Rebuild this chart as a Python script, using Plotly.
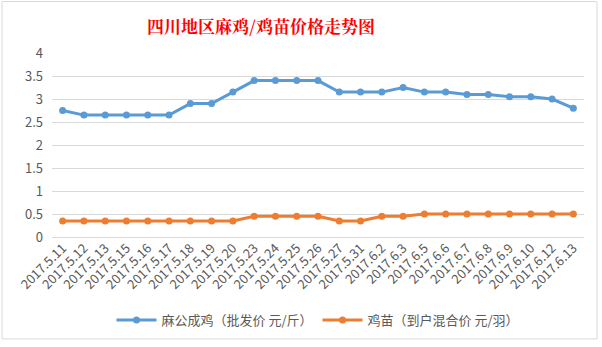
import plotly.graph_objects as go

dates = ["2017.5.11", "2017.5.12", "2017.5.13", "2017.5.15", "2017.5.16", "2017.5.17",
         "2017.5.18", "2017.5.19", "2017.5.20", "2017.5.23", "2017.5.24", "2017.5.25",
         "2017.5.26", "2017.5.27", "2017.5.31", "2017.6.2", "2017.6.3", "2017.6.5",
         "2017.6.6", "2017.6.7", "2017.6.8", "2017.6.9", "2017.6.10", "2017.6.12", "2017.6.13"]
mgcj = [2.75, 2.65, 2.65, 2.65, 2.65, 2.65, 2.9, 2.9, 3.15, 3.4, 3.4, 3.4, 3.4,
        3.15, 3.15, 3.15, 3.25, 3.15, 3.15, 3.1, 3.1, 3.05, 3.05, 3.0, 2.8]
jm = [0.35, 0.35, 0.35, 0.35, 0.35, 0.35, 0.35, 0.35, 0.35, 0.45, 0.45, 0.45, 0.45,
      0.35, 0.35, 0.45, 0.45, 0.5, 0.5, 0.5, 0.5, 0.5, 0.5, 0.5, 0.5]
names = ["麻公成鸡（批发价 元/斤）", "鸡苗（到户混合价 元/羽）"]
colors = ["#5B9BD5", "#ED7D31"]
yticks = [0, 0.5, 1, 1.5, 2, 2.5, 3, 3.5, 4]

fig = go.Figure()
for vals, nm, c in zip([mgcj, jm], names, colors):
    fig.add_trace(go.Scatter(x=dates, y=vals, name=nm, mode="lines+markers",
                             line=dict(color=c, width=3),
                             marker=dict(color=c, size=7)))

font = "Noto Sans CJK SC, Liberation Sans, sans-serif"
fig.update_layout(
    width=602, height=347,
    margin=dict(l=52, r=18, t=53, b=108),
    paper_bgcolor="white", plot_bgcolor="white",
    title=dict(text="<b>四川地区麻鸡/鸡苗价格走势图</b>", xref="container", x=261 / 602,
               xanchor="center", y=1 - 27 / 347, yanchor="middle",
               font=dict(family="Noto Serif CJK SC, Noto Sans CJK SC, serif", size=17, color="#FF0000")),
    xaxis=dict(type="category", tickangle=-45, showgrid=False, showline=False,
               tickfont=dict(family=font, size=13, color="#595959"), ticks="",
               range=[-0.5, len(dates) - 0.5]),
    yaxis=dict(range=[0, 4], tickvals=yticks, ticktext=[f"{v:g}" for v in yticks],
               showgrid=True, gridcolor="#D9D9D9", gridwidth=1, zeroline=True,
               zerolinecolor="#D9D9D9", zerolinewidth=1,
               tickfont=dict(family=font, size=13, color="#595959"), ticklen=0,
               ticks="", ticklabelstandoff=8),
    legend=dict(orientation="h", x=0.5, xanchor="center", y=-84 / 186, yanchor="middle",
                font=dict(family=font, size=13, color="#595959"), itemwidth=40),
    showlegend=True,
    shapes=[dict(type="rect", xref="paper", yref="paper",
                 x0=-50 / 532, x1=(597 - 52) / 532, y0=-(342 - 239) / 186, y1=(239 - 1) / 186,
                 line=dict(color="#D9D9D9", width=1))],
)
fig.write_html("out.html")
